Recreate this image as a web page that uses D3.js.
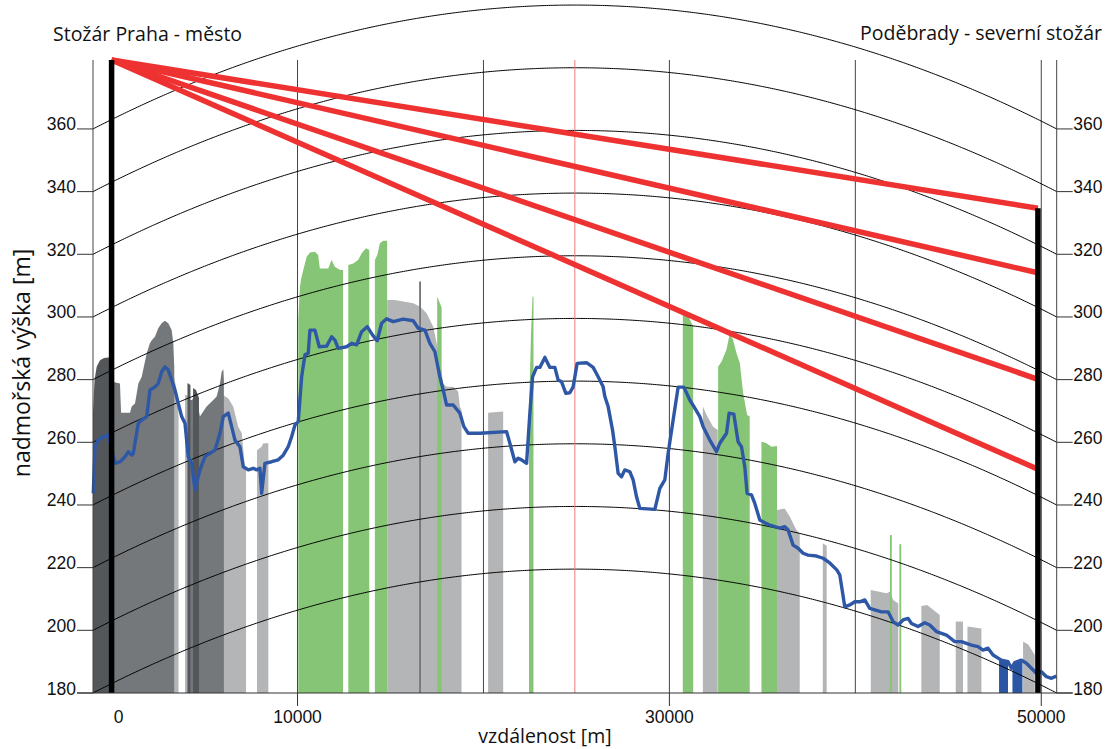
<!DOCTYPE html>
<html>
<head>
<meta charset="utf-8">
<script src="https://cdn.jsdelivr.net/npm/d3@7/dist/d3.min.js"></script>
<style>
body { margin: 0; background: #fff; }
svg text { font-family: "Liberation Sans", Arial, sans-serif; fill: #111; }
svg text.popis { font-family: "Open Sans", "Noto Sans", sans-serif; }
</style>
</head>
<body>
<svg id="graf" width="1113" height="749"></svg>
<script>
// profil terénu Praha - Poděbrady (vzdálenost [m], výška [m] i s vydutím Země)
var profil = [[-984,243.7],[-890,258.6],[-715,260.7],[-446,261.8],[-177,262.3],[183,253.3],[452,253.8],[721,255.4],[898,257.0],[1081,255.9],[1167,256.5],[1436,266.1],[1618,267.1],[1887,268.2],[2065,276.7],[2333,277.7],[2511,278.8],[2694,282.5],[2871,284.1],[3049,283.1],[3231,279.9],[3409,276.7],[3586,272.4],[3769,268.2],[3946,266.1],[4124,255.4],[4307,253.3],[4484,244.8],[4753,251.2],[5022,255.4],[5291,256.5],[5559,257.5],[5828,262.9],[6006,268.2],[6275,269.3],[6457,265.0],[6635,260.7],[6904,258.6],[7081,252.2],[7350,251.2],[7619,251.7],[7802,251.2],[7979,251.7],[8070,243.7],[8248,253.3],[8608,253.8],[8963,254.4],[9232,255.9],[9500,258.6],[9683,261.8],[9861,265.5],[10038,266.6],
	[10221,280.9],[10398,287.9],[10576,288.4],[10667,295.8],[10936,295.8],[11167,290.5],[11565,290.7],[11834,293.7],[12011,292.6],[12189,290.0],[12640,290.5],[12909,291.6],[13178,291.1],[13447,295.3],[13748,296.9],[14038,294.2],[14286,292.4],[14522,298.0],[14791,299.4],[15146,298.5],[15684,299.3],[16221,298.8],[16490,296.4],[16850,295.8],[17119,291.6],[17388,288.9],[17657,280.9],[17834,276.7],[18017,271.9],[18372,271.9],[18732,269.3],[18947,265.0],[19178,262.9],[19807,262.9],
	[21243,263.4],[21420,259.7],[21689,253.8],[21866,254.9],[22049,254.4],[22318,253.3],[22496,269.3],[22641,280.9],[22856,283.9],[23033,283.9],[23302,287.1],[23571,283.9],[23840,283.9],[24017,279.9],[24200,279.3],[24431,275.6],[24646,275.8],[24823,277.7],[25038,285.2],[25544,285.4],[25899,283.9],[26168,280.9],[26437,277.7],[26528,274.6],[26706,271.4],[26942,263.9],[27066,258.6],[27243,250.1],[27426,249.0],[27603,251.2],[27872,250.6],[28050,248.0],[28233,242.6],[28410,238.9],[29217,238.6],[29485,245.3],[29754,248.0],[29932,256.5],[30201,267.1],[30469,277.6],[30776,277.6],[31098,273.5],[31367,270.9],[31636,268.2],
	[31814,265.0],[32173,260.7],[32534,257.0],[32711,259.7],[33072,262.9],[33212,269.3],[33464,269.0],[33695,260.2],[33878,258.6],[34055,252.2],[34179,243.7],[34416,243.2],[34593,240.5],[34862,235.2],[35131,234.3],[35400,233.6],[35669,233.1],[35938,232.6],[36206,233.1],[36384,232.0],[36653,227.2],[36921,226.2],[37190,224.6],[37459,224.0],[37911,223.7],[38265,223.0],
	[38625,221.5],[39002,219.3],[39163,217.7],[39432,207.5],[39701,208.1],[39970,209.1],[40239,209.1],[40508,209.7],[40776,207.0],[41405,205.9],[41760,205.9],[42029,202.8],[42298,201.7],[42567,203.3],[42836,203.8],[43018,202.2],[43373,201.2],[43733,202.4],[44002,201.7],[44362,199.6],[44900,198.5],[45346,196.4],[45706,196.4],[46244,195.3],[46599,194.8],[46868,193.7],[47137,194.3],[47406,192.1],[47857,190.5],[48212,190.0],[48395,187.9],[48572,189.7],[48932,190.5],[49201,189.5],[49470,187.9],[49739,186.3],[50008,186.8],[50277,185.2],[50546,184.7],[50815,185.4]];

// městská zástavba (nejtmavší)
var mesto = [
	[[-1000,269.4],[-919,279.9],[-801,284.1],[-624,286.2],[-409,286.9],[22,287.2]],
	[[4080,278.9],[4240,278.3]],
	[[4380,277.3],[4540,276.7],[4700,274.1]]
];
// zástavba (střední šedá)
var zastavba = [
	[[60,279.3],[450,278.8],[510,269.4],[990,269.4],[1080,271.4],[1260,272.4],[1440,278.8],[1620,280.9],[1890,288.4],[2060,291.6],[2160,292.6],[2330,293.7],[2510,296.4],[2690,298.0],[2870,298.8],[3050,298.0],[3230,295.8],[3320,291.6],[3370,284.1]],
	[[4110,273.5],[4320,273.5],[4540,275.1],[4750,268.2],[5110,271.4],[5470,273.5],[5650,274.6],[5830,278.8],[5920,282.5],[6010,283.3],[6040,279.9]],
	[[16540,311.3],[16640,311.3]]
];
// sídla (světlá šedá)
var sidla = [
	[[3360,281],[3460,278],[3560,272.4],[3600,268]],
	[[3950,275],[4110,275]],
	[[5990,275.1],[6280,274.0],[6540,271.4],[6810,265.0],[7000,262.9],[7170,252.2],[7230,251.2]],
	[[7820,257.5],[8070,258.6],[8160,259.7],[8430,259.7]],
	[[14823,305.4],[15240,305.4],[15680,304.9],[16220,304.4],[16580,303.3],[16940,301.2],[17300,296.9],[17480,291.6],[17660,286.3],[17830,278.8],[18020,277.7],[18370,277.7],[18640,276.2],[18730,271.4],[18820,270.3]],
	[[20250,269.4],[21060,269.8]],
	[[31800,271.4],[32000,268.7],[32350,265],[32600,263.9]],
	[[35790,238.4],[36200,238.9],[36470,236.3],[36830,232],[37010,231]],
	[[38250,227.8],[38460,227]],
	[[40830,212.9],[41680,211.8],[41850,212.3],[42040,209.7],[42310,208.6]],
	[[43550,207.8],[43860,208.1],[44540,204.9]],
	[[45400,202.8],[45790,202.8]],
	[[46030,201.2],[46780,200.6]],
	[[49020,196.4],[49300,195.5],[49650,192.1]]
];
// lesy (zelená)
var lesy = [
	[[10040,299],[10130,309.7],[10220,312.8],[10310,315],[10490,319.2],[10670,320.6],[10940,320.8],[11110,319.8],[11200,315.5],[11650,315.5],[11830,318.2],[12010,316],[12280,315],[12450,315]],
	[[12730,316.6],[13000,317.1],[13260,318.2],[13450,320.3],[13680,321.9],[13860,321.4]],
	[[14160,318.2],[14290,319.8],[14430,323.5],[14610,324.3],[14820,324.3]],
	[[17510,306.5],[17750,303]],
	[[22450,270],[22560,295],[22640,306.5],[22690,306.5]],
	[[30720,302.2],[30900,301.5],[31280,297]],
	[[32620,284.1],[32800,285.7],[33070,289.5],[33250,294.8],[33430,292.6],[33610,288.4],[33790,285.2],[33970,275.6],[34180,268.7],[34320,268.2]],
	[[34950,260.2],[35220,259.7],[35490,258.6],[35790,258.8]],
	[[41860,230.4],[41960,230.4]],
	[[42370,227.5],[42470,227.5]]
];
// vodní toky (od - do)
var vodniToky = [[47730,48210],[48450,48990]];

// stožáry: vzdálenost, výška vrcholu
var stozary = [[0,382],[49820,334.7]];
// výšky paprsků na přijímacím stožáru
var paprsky = [334.7,314.1,280.1,251.4];
var nazvy = ["Stožár Praha - město","Poděbrady - severní stožár"];

var yTicks = [180,200,220,240,260,280,300,320,340,360];
var xTicks = [0,10000,30000,50000];
var xMrizka = [10000,20000,30000,40000,50000];

var dMin = -1000, dMax = 50830, hMin = 180, hMax = 382;
var R = 6371000 * 4 / 3;	// efektivní poloměr Země

var svg = d3.select("#graf");
var x = d3.scaleLinear().domain([dMin,dMax]).range([93,1056.7]);
var y = d3.scaleLinear().domain([hMin,hMax]).range([693,60]);

function vydut(d) {
	return (d - dMin) * (dMax - d) / (2 * R);
}

function naProfilu(d) {
	for (var i = 1; i < profil.length; i++) {
		if (profil[i][0] >= d) {
			var a = profil[i-1], b = profil[i];
			return a[1] + (b[1] - a[1]) * (d - a[0]) / (b[0] - a[0]);
		}
	}
	return profil[profil.length-1][1];
}

var plocha = d3.area()
	.x(function (d) { return x(d[0]); })
	.y0(y(hMin))
	.y1(function (d) { return y(d[1]); });

var cara = d3.line()
	.x(function (d) { return x(d[0]); })
	.y(function (d) { return y(d[1]); });

// svislá mřížka
svg.append("g").selectAll("line")
	.data(xMrizka)
	.enter()
	.append("line")
	.attr("x1", function (d) { return x(d); })
	.attr("x2", function (d) { return x(d); })
	.attr("y1", y(hMax))
	.attr("y2", y(hMin))
	.attr("stroke", "#444")
	.attr("stroke-width", 1);

// plochy
function kresliPlochy(data, barva) {
	svg.append("g").selectAll("path")
		.data(data)
		.enter()
		.append("path")
		.attr("d", plocha)
		.attr("fill", barva);
}
kresliPlochy(sidla, "#b4b5b7");
kresliPlochy(lesy, "#86c575");
kresliPlochy(zastavba, "#75787b");
kresliPlochy(mesto, "#54575a");

// voda
svg.append("g").selectAll("path")
	.data(vodniToky)
	.enter()
	.append("path")
	.attr("d", function (t) {
		var body = [[t[0], naProfilu(t[0])]];
		profil.forEach(function (p) {
			if (p[0] > t[0] && p[0] < t[1]) body.push(p);
		});
		body.push([t[1], naProfilu(t[1])]);
		return plocha(body);
	})
	.attr("fill", "#2b56a4");

// křivky stejné výšky (zakřivení Země)
var kroky = d3.range(dMin, dMax, 100).concat([dMax]);
svg.append("g").selectAll("path")
	.data(yTicks)
	.enter()
	.append("path")
	.attr("d", function (h) {
		return cara(kroky.map(function (d) { return [d, h + vydut(d)]; }));
	})
	.attr("fill", "none")
	.attr("stroke", "#000")
	.attr("stroke-width", 1);

// středová čára
var stred = (dMin + dMax) / 2;
svg.append("line")
	.attr("x1", x(stred)).attr("x2", x(stred))
	.attr("y1", y(hMax)).attr("y2", y(hMin))
	.attr("stroke", "#f07a7a")
	.attr("stroke-width", 1);

// profil terénu
svg.append("path")
	.datum(profil)
	.attr("d", cara)
	.attr("fill", "none")
	.attr("stroke", "#2e58a6")
	.attr("stroke-width", 3.4)
	.attr("stroke-linejoin", "round");

// paprsky
svg.append("g").selectAll("line")
	.data(paprsky)
	.enter()
	.append("line")
	.attr("x1", x(stozary[0][0]))
	.attr("y1", y(stozary[0][1]))
	.attr("x2", x(stozary[1][0]))
	.attr("y2", function (d) { return y(d); })
	.attr("stroke", "#ee3232")
	.attr("stroke-width", 5.5);

// stožáry
svg.append("g").selectAll("line")
	.data(stozary)
	.enter()
	.append("line")
	.attr("x1", function (d) { return x(d[0]); })
	.attr("x2", function (d) { return x(d[0]); })
	.attr("y1", function (d) { return y(d[1]); })
	.attr("y2", y(hMin))
	.attr("stroke", "#000")
	.attr("stroke-width", 5.5);

// osy
[dMin, dMax].forEach(function (d) {
	svg.append("line")
		.attr("x1", x(d)).attr("x2", x(d))
		.attr("y1", y(hMax)).attr("y2", y(hMin))
		.attr("stroke", "#444")
		.attr("stroke-width", 1);
});

// ticky na osách y (vlevo i vpravo)
var osaL = svg.append("g");
yTicks.forEach(function (v) {
	osaL.append("line")
		.attr("x1", x(dMin) - 16).attr("x2", x(dMin))
		.attr("y1", y(v)).attr("y2", y(v))
		.attr("stroke", "#333");
	osaL.append("line")
		.attr("x1", x(dMax)).attr("x2", x(dMax) + 16)
		.attr("y1", y(v)).attr("y2", y(v))
		.attr("stroke", "#333");
	osaL.append("text")
		.attr("x", x(dMin) - 17)
		.attr("y", y(v) + 1.5)
		.attr("text-anchor", "end")
		.attr("font-size", "17.5px")
		.text(v);
	osaL.append("text")
		.attr("x", x(dMax) + 16.5)
		.attr("y", y(v) + 1.5)
		.attr("font-size", "17.5px")
		.text(v);
});

// osa x
svg.append("line")
	.attr("x1", x(dMin) - 16).attr("x2", x(dMax) + 16)
	.attr("y1", y(hMin)).attr("y2", y(hMin))
	.attr("stroke", "#333");
xTicks.forEach(function (v) {
	if (v != 0) {
		svg.append("line")
			.attr("x1", x(v)).attr("x2", x(v))
			.attr("y1", y(hMin)).attr("y2", y(hMin) + 13)
			.attr("stroke", "#333");
	}
	svg.append("text")
		.attr("x", x(v) + (v == 0 ? 7 : 0))
		.attr("y", 722.5)
		.attr("text-anchor", "middle")
		.attr("font-size", "17.5px")
		.text(v);
});

// popisky
svg.append("text")
	.attr("class", "popis")
	.attr("x", 53).attr("y", 41)
	.attr("font-size", "19.5px")
	.text(nazvy[0]);
svg.append("text")
	.attr("class", "popis")
	.attr("x", 1102).attr("y", 40)
	.attr("text-anchor", "end")
	.attr("font-size", "19.5px")
	.text(nazvy[1]);
svg.append("text")
	.attr("class", "popis")
	.attr("x", 545).attr("y", 743)
	.attr("text-anchor", "middle")
	.attr("font-size", "19.5px")
	.text("vzdálenost [m]");
svg.append("text")
	.attr("class", "popis")
	.attr("transform", "translate(30,363) rotate(-90)")
	.attr("text-anchor", "middle")
	.attr("font-size", "23px")
	.text("nadmořská výška [m]");
</script>
</body>
</html>
